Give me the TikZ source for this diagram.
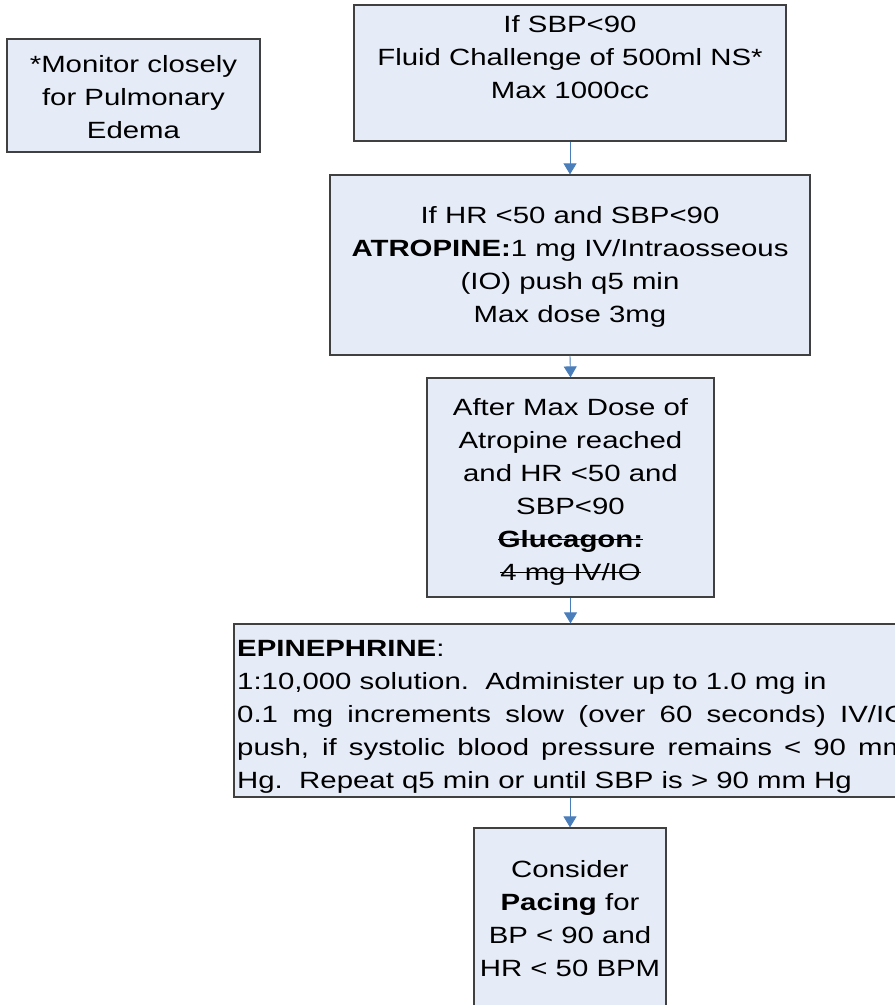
\documentclass[tikz,border=0pt]{standalone}
\usepackage{fontspec}
\setmainfont{Liberation Sans}[FakeStretch=1.25]
\usetikzlibrary{arrows.meta}
\newcommand{\strk}[1]{\leavevmode\setbox0=\hbox{#1}\rlap{\rule[0.3em]{\wd0}{1.6pt}}\box0}
\definecolor{boxfill}{RGB}{230,236,247}
\definecolor{boxline}{RGB}{64,64,64}
\definecolor{arrowblue}{RGB}{74,126,187}
\tikzset{
  box/.style={draw=boxline, fill=boxfill, line width=1.2pt, rectangle, inner sep=0pt},
  txt/.style={inner sep=0pt, align=center, anchor=north, font=\fontsize{23.5}{33}\selectfont},
  arr/.style={draw=arrowblue, line width=0.9pt, -{Triangle[length=11pt,width=13pt]}, color=arrowblue}
}
\begin{document}
\begin{tikzpicture}[x=1pt,y=-1pt]
\useasboundingbox (0,0) rectangle (895,1005);
\clip (0,0) rectangle (895,1005);
% boxes
\node[box, minimum width=253pt, minimum height=113pt] (b0) at (133.5,95.5) {};
\node[box, minimum width=432pt, minimum height=136pt] (b1) at (570,73) {};
\node[box, minimum width=480pt, minimum height=180pt] (b2) at (570,265) {};
\node[box, minimum width=287pt, minimum height=219pt] (b3) at (570.5,487.5) {};
\node[box, minimum width=686pt, minimum height=173pt] (b4) at (577,710.5) {};
\node[box, minimum width=192pt, minimum height=182pt] (b5) at (570,919) {};
% texts
\node[txt] (t0) at (133.5,55) {*Monitor closely\\for Pulmonary\\Edema};
\node[txt] (t1) at (570,15) {If SBP<90\\Fluid Challenge of 500ml NS*\\Max 1000cc};
\node[txt] (t2) at (570,206) {If HR <50 and SBP<90\\\textbf{ATROPINE:}1 mg IV/Intraosseous\\(IO) push q5 min\\Max dose 3mg};
\node[txt] (t3) at (570.5,398) {After Max Dose of\\Atropine reached\\and HR <50 and\\SBP<90\\\strk{\textbf{Glucagon:}}\\\strk{4 mg IV/IO}};
\node[txt, anchor=north west, text width=670pt, align=justify] (t4) at (237,640)
  {\noindent\textbf{EPINEPHRINE}:\newline
   1:10,000 solution.~~Administer up to 1.0 mg in\newline
   0.1 mg increments slow (over 60 seconds) IV/IO\linebreak
   push, if systolic blood pressure remains < 90 mm\linebreak
   Hg.~~Repeat q5 min or until SBP is > 90 mm Hg};
\node[txt] (t5) at (570,860) {Consider\\\textbf{Pacing} for\\BP < 90 and\\HR < 50 BPM};
% connectors
\draw[arr] (b1.south) -- (b2.north);
\draw[arr] (b2.south) -- (b3.north);
\draw[arr] (b3.south) -- (b3.south |- b4.north);
\draw[arr] (b5.north |- b4.south) -- (b5.north);
\end{tikzpicture}
\end{document}
